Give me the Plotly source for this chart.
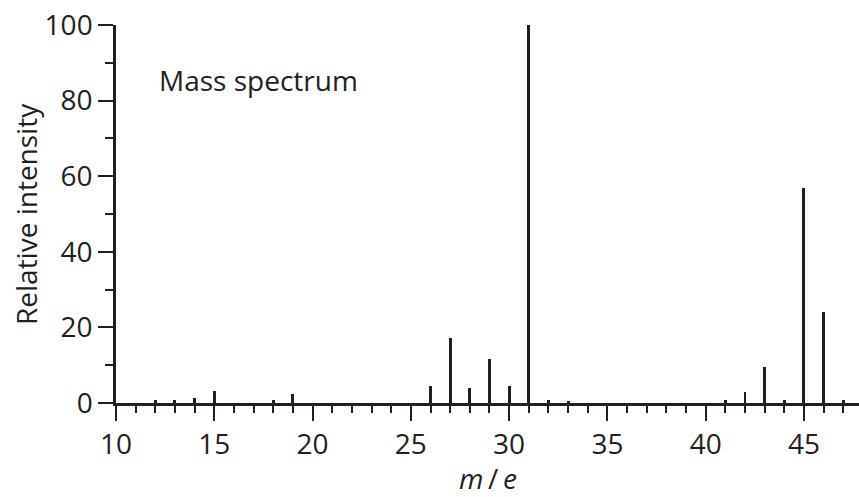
import plotly.graph_objects as go

mz = [12, 13, 14, 15, 18, 19, 26, 27, 28, 29, 30, 31, 32, 33, 41, 42, 43, 44, 45, 46, 47]
intensity = [0.7, 0.9, 1.2, 3.3, 0.9, 2.4, 4.5, 17.3, 4.0, 11.7, 4.5, 100, 0.8, 0.5, 0.8, 3.0, 9.6, 0.8, 56.9, 24.1, 0.8]
x_ticks = [10, 15, 20, 25, 30, 35, 40, 45]
y_ticks = [0, 20, 40, 60, 80, 100]

ink = "#231f20"
font = "Open Sans"

fig = go.Figure()
fig.add_trace(go.Bar(x=mz, y=intensity, width=0.15, marker=dict(color=ink, line=dict(width=0)),
                     showlegend=False))

fig.update_layout(
    width=859, height=497,
    margin=dict(l=116, r=0, t=25, b=94, autoexpand=False),
    plot_bgcolor="white", paper_bgcolor="white",
    font=dict(family=font, color=ink, size=28),
    bargap=0,
    xaxis=dict(range=[10, 47.8], tickvals=x_ticks, ticks="outside", ticklen=15, tickwidth=2,
               tickcolor=ink, showline=True, linecolor=ink, linewidth=2.5, showgrid=False,
               zeroline=False, tickfont=dict(size=28, family=font, color=ink),
               ticklabeloverflow="allow",
               minor=dict(dtick=1, tick0=10, ticks="outside", ticklen=7, tickwidth=2, tickcolor=ink, showgrid=False)),
    yaxis=dict(range=[0, 100], tickvals=y_ticks, ticks="outside", ticklen=15, tickwidth=2,
               tickcolor=ink, showline=True, linecolor=ink, linewidth=2.5, showgrid=False,
               zeroline=False, tickfont=dict(size=28, family=font, color=ink),
               ticklabeloverflow="allow",
               minor=dict(dtick=10, tick0=0, ticks="outside", ticklen=8, tickwidth=2, tickcolor=ink, showgrid=False)),
    annotations=[
        dict(text="Mass spectrum", xref="paper", yref="paper", x=0, xshift=41, y=(403 - 80) / 378,
             xanchor="left", yanchor="middle", showarrow=False, font=dict(size=28, family=font, color=ink)),
        dict(text="Relative intensity", xref="paper", yref="paper", x=0, y=0.5, xshift=-90,
             xanchor="center", yanchor="middle", textangle=-90, showarrow=False,
             font=dict(size=28, family=font, color=ink)),
        dict(text="<i>m</i>\u2009/\u2009<i>e</i>", xref="paper", yref="paper", x=0.5, y=0, yshift=-75,
             xanchor="center", yanchor="middle", showarrow=False,
             font=dict(size=28, family=font, color=ink)),
    ],
)

fig.write_html("out.html", config={"displayModeBar": False},
               post_script="document.body.style.margin='0';")
